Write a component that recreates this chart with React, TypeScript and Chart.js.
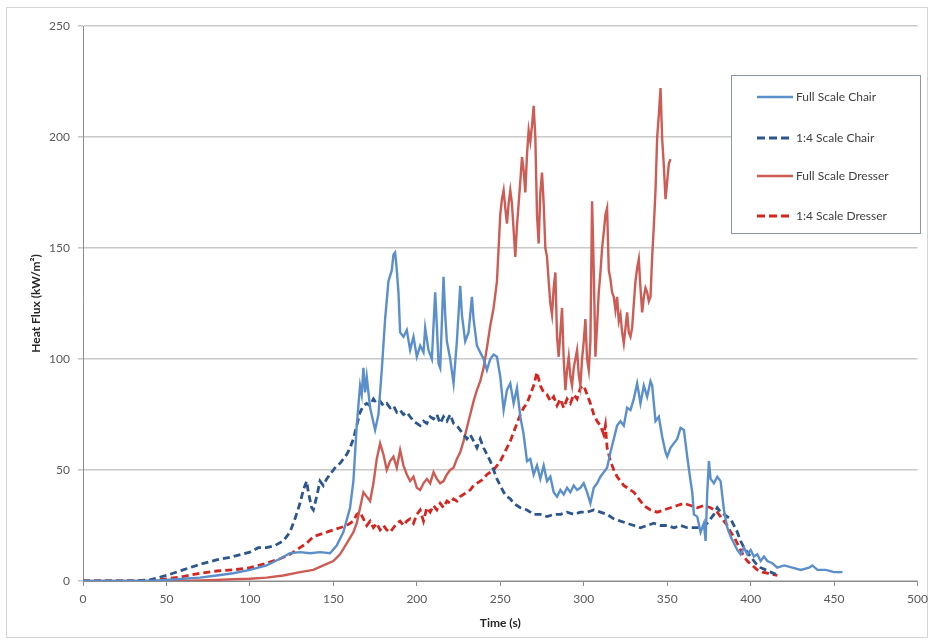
import React, { useEffect, useRef } from "react";
import { Chart, registerables } from "chart.js";

Chart.register(...registerables);

// Full scale chair: time (s) and heat flux (kW/m²)
const chairFullTime = [
  0, 20, 40, 50, 60, 70, 80, 90, 100, 110, 118, 124, 130, 136, 142, 148, 152, 156, 160, 162,
  164, 166, 167, 168, 169, 170, 172, 175, 177, 179, 181, 183, 185, 186, 187, 188, 189, 190, 192, 194,
  196, 198, 200, 202, 204, 205, 207, 209, 211, 212, 213, 214, 216, 217, 218, 220, 222, 224, 226, 227,
  229, 231, 233, 234, 236, 238, 240, 242, 244, 246, 248, 250, 252, 254, 256, 258, 260, 262, 264, 266,
  268, 270, 272, 274, 276, 278, 280, 282, 284, 286, 288, 290, 292, 294, 296, 298, 300, 302, 304, 306,
  308, 310, 312, 314, 316, 318, 320, 322, 324, 326, 328, 330, 332, 334, 336, 338, 340, 341, 343, 345,
  347, 349, 350, 352, 354, 356, 358, 360, 362, 364, 365, 366, 368, 370, 372, 373, 374, 375, 376, 378,
  380, 382, 384, 386, 388, 390, 392, 394, 396, 398, 400, 402, 404, 406, 408, 410, 413, 416, 420, 425,
  430, 435, 437, 440, 445, 450, 455,
];
const chairFullFlux = [
  0, 0, 0, 0.5, 1, 1.5, 2.5, 3.5, 5, 7, 10, 12.5, 13, 12.5, 13, 12.5, 16, 22, 33, 45,
  70, 88, 84, 96, 85, 92, 78, 68, 75, 95, 118, 135, 140, 147, 148, 140, 130, 112, 110, 113,
  104, 110, 101, 106, 103, 114, 104, 100, 130, 115, 98, 96, 137, 120, 108, 100, 89, 108, 133, 120,
  108, 112, 128, 118, 106, 103, 100, 95, 100, 102, 101, 92, 77, 86, 89, 80, 87, 74, 66, 54,
  55, 48, 52, 46, 52, 45, 47, 40, 38, 41, 39, 42, 40, 43, 41, 42, 44, 40, 35, 42,
  44, 47, 49, 51, 58, 64, 70, 72, 70, 78, 77, 82, 89, 80, 88, 83, 90, 88, 72, 74,
  65, 58, 56, 60, 62, 64, 69, 68, 56, 45, 40, 30, 29, 22, 26, 18, 40, 54, 46, 44,
  47, 45, 32, 24, 20, 17, 14, 12, 15, 12, 14, 11, 12, 9, 11, 9, 8, 6, 7, 6,
  5, 6, 7, 5, 5, 4, 4,
];

// 1:4 scale chair
const chairQuarterTime = [
  0, 30, 40, 45, 50, 60, 70, 80, 90, 100, 105, 110, 115, 120, 124, 127, 130, 132, 134, 135,
  137, 138, 140, 142, 144, 146, 148, 150, 152, 154, 156, 158, 160, 162, 164, 166, 168, 170, 172, 174,
  176, 178, 180, 182, 184, 186, 188, 190, 192, 194, 196, 198, 200, 202, 204, 206, 208, 210, 212, 214,
  216, 218, 220, 222, 224, 226, 228, 230, 232, 234, 236, 238, 240, 242, 244, 246, 248, 250, 252, 254,
  256, 258, 260, 262, 266, 270, 274, 278, 282, 286, 290, 294, 298, 302, 306, 310, 314, 318, 322, 326,
  330, 334, 338, 342, 346, 350, 354, 358, 362, 366, 370, 374, 378, 380, 382, 384, 386, 388, 390, 392,
  394, 396, 398, 400, 403, 406, 409, 412, 415,
];
const chairQuarterFlux = [
  0, 0, 0.5, 1.5, 2.5, 5, 7.5, 9.5, 11, 13, 15, 15, 16, 18, 22, 28, 35, 41, 45, 40,
  33, 32, 38, 45, 43, 46, 48, 50, 52, 53, 55, 57, 60, 64, 70, 76, 79, 80, 79, 82,
  80, 81, 79, 80, 78, 79, 76, 77, 75, 76, 74, 72, 71, 70, 72, 71, 74, 73, 75, 71,
  74, 72, 75, 71, 70, 68, 66, 64, 66, 63, 60, 64, 60, 57, 54, 50, 46, 43, 40, 38,
  37, 35, 34, 33, 32, 30, 30, 29, 30, 30, 31, 30, 31, 31, 32, 31, 30, 28, 27, 26,
  25, 24, 25, 26, 25, 25, 24, 25, 24, 24, 24, 26, 30, 33, 31, 30, 29, 28, 25, 22,
  18, 15, 13, 11, 8, 6, 5, 4, 3,
];

// Full scale dresser
const dresserFullTime = [
  0, 60, 70, 80, 90, 100, 110, 120, 130, 138, 144, 150, 154, 158, 162, 164, 166, 168, 170, 172,
  174, 176, 178, 180, 182, 184, 186, 188, 190, 192, 194, 196, 198, 200, 202, 204, 206, 208, 210, 212,
  214, 216, 218, 220, 222, 224, 226, 228, 230, 232, 234, 236, 238, 240, 242, 244, 246, 248, 249, 250,
  251, 252, 253, 254, 255, 256, 257, 258, 259, 260, 261, 262, 263, 264, 265, 266, 267, 268, 269, 270,
  271, 272, 273, 274, 275, 276, 277, 278, 279, 280, 281, 282, 283, 284, 285, 286, 287, 288, 289, 290,
  291, 292, 293, 294, 295, 296, 297, 298, 299, 300, 301, 302, 303, 304, 305, 306, 307, 308, 309, 310,
  311, 312, 313, 314, 315, 316, 317, 318, 319, 320, 321, 322, 323, 324, 325, 326, 327, 328, 329, 330,
  331, 332, 333, 334, 335, 336, 337, 338, 339, 340, 341, 342, 343, 344, 345, 346, 347, 348, 349, 350,
  351, 352,
];
const dresserFullFlux = [
  0, 0, 0.3, 0.5, 0.8, 1, 1.5, 2.5, 4, 5, 7, 9, 12, 17, 22, 26, 33, 40, 38, 36,
  44, 55, 62, 57, 50, 54, 56, 51, 59, 52, 48, 45, 47, 42, 41, 44, 46, 44, 49, 46,
  44, 45, 48, 50, 51, 55, 58, 63, 69, 75, 81, 86, 90, 96, 105, 115, 123, 135, 150, 165,
  172, 176, 168, 161, 170, 176, 170, 158, 146, 160, 170, 180, 191, 185, 175, 192, 203, 198, 205, 214,
  200, 165, 152, 175, 184, 170, 150, 146, 135, 125, 120, 132, 139, 110, 101, 112, 123, 100, 86, 95,
  101, 92, 88, 96, 100, 104, 93, 88, 100, 108, 118, 100, 95, 108, 171, 140, 101, 115, 130, 139,
  150, 157, 165, 168, 140, 136, 130, 128, 122, 128, 117, 120, 112, 107, 114, 121, 112, 110, 114, 125,
  135, 141, 145, 132, 121, 128, 132, 130, 126, 128, 146, 160, 176, 200, 210, 222, 199, 187, 172, 180,
  188, 190,
];

// 1:4 scale dresser
const dresserQuarterTime = [
  0, 40, 45, 50, 60, 70, 80, 90, 100, 110, 118, 124, 130, 134, 138, 142, 146, 150, 154, 158,
  162, 164, 166, 168, 170, 172, 174, 176, 178, 180, 182, 184, 186, 188, 190, 192, 194, 196, 198, 200,
  202, 204, 206, 208, 210, 212, 214, 216, 218, 220, 222, 224, 226, 228, 230, 232, 234, 236, 238, 240,
  242, 244, 246, 248, 250, 252, 254, 256, 258, 260, 262, 264, 266, 268, 270, 272, 273, 274, 276, 278,
  280, 282, 284, 286, 288, 290, 292, 294, 296, 298, 300, 302, 304, 306, 308, 310, 312, 313, 314, 316,
  318, 320, 322, 324, 326, 328, 330, 332, 334, 336, 338, 340, 344, 348, 352, 356, 360, 364, 368, 372,
  376, 380, 382, 384, 386, 388, 390, 392, 394, 396, 398, 401, 404, 407, 410, 413, 416,
];
const dresserQuarterFlux = [
  0, 0, 0.5, 1, 2, 3.5, 4.5, 5, 6, 8, 10, 12, 15, 17, 20, 21, 22, 23, 24, 25,
  27, 30, 31, 28, 25, 27, 24, 26, 23, 25, 23, 22, 24, 26, 27, 25, 27, 28, 26, 30,
  32, 27, 33, 31, 34, 32, 35, 33, 36, 35, 37, 36, 38, 39, 40, 41, 43, 44, 45, 46,
  48, 49, 50, 52, 54, 57, 60, 63, 67, 71, 75, 78, 80, 84, 88, 94, 91, 88, 85, 84,
  81, 83, 79, 82, 78, 82, 80, 84, 82, 87, 88, 84, 80, 75, 72, 70, 66, 70, 60, 54,
  50, 47, 45, 43, 42, 41, 40, 38, 36, 34, 33, 32, 31, 32, 33, 34, 35, 34, 33, 34,
  33, 31, 29, 27, 25, 22, 20, 17, 14, 11, 9, 7, 5, 4, 3.5, 3, 2.5,
];

const seriesNames = ["Full Scale Chair", "1:4 Scale Chair", "Full Scale Dresser", "1:4 Scale Dresser"];
const seriesColors = ["#5b8fcb", "#2c568c", "#cd5c55", "#d4261f"];
const xTicks = [0, 50, 100, 150, 200, 250, 300, 350, 400, 450, 500];

const FONT = "Lato, 'Open Sans', 'DejaVu Sans', sans-serif";

const toPoints = (t: number[], v: number[]) => t.map((x, i) => ({ x, y: v[i] }));

// White background plus the thin frame around the whole chart
const framePlugin = {
  id: "frame",
  beforeDraw(chart: any) {
    const { ctx, width, height } = chart;
    ctx.save();
    ctx.fillStyle = "#ffffff";
    ctx.fillRect(0, 0, width, height);
    ctx.strokeStyle = "#d4d4d4";
    ctx.lineWidth = 1;
    ctx.strokeRect(6.5, 7.5, width - 13, height - 14);
    ctx.restore();
  },
};

// Boxed legend inside the plot, top right
const boxLegendPlugin = {
  id: "boxLegend",
  afterDraw(chart: any) {
    const { ctx } = chart;
    const left = 731.5;
    const top = 75.5;
    const w = 189;
    const h = 158;
    ctx.save();
    ctx.fillStyle = "#ffffff";
    ctx.fillRect(left, top, w, h);
    ctx.strokeStyle = "#8a97ab";
    ctx.lineWidth = 1;
    ctx.strokeRect(left, top, w, h);
    const rows = [97, 138, 176, 216];
    chart.data.datasets.forEach((ds: any, i: number) => {
      const y = rows[i];
      const dashed = ds.borderDash && ds.borderDash.length;
      ctx.beginPath();
      ctx.strokeStyle = ds.borderColor;
      ctx.lineWidth = dashed ? 3 : 2.5;
      ctx.setLineDash(dashed ? [8, 4] : []);
      ctx.moveTo(757, y);
      ctx.lineTo(793, y);
      ctx.stroke();
      ctx.setLineDash([]);
      ctx.fillStyle = "#404040";
      ctx.font = `12px ${FONT}`;
      ctx.textBaseline = "middle";
      ctx.textAlign = "left";
      ctx.fillText(ds.label, 796, y);
    });
    ctx.restore();
  },
};

export default function App() {
  const canvasRef = useRef<HTMLCanvasElement | null>(null);

  useEffect(() => {
    if (!canvasRef.current) return;
    const makeSet = (i: number, t: number[], v: number[], dashed: boolean) => ({
      label: seriesNames[i],
      data: toPoints(t, v),
      borderColor: seriesColors[i],
      backgroundColor: seriesColors[i],
      borderWidth: dashed ? 2.8 : 2.4,
      borderDash: dashed ? [7, 4] : [],
      pointRadius: 0,
      tension: 0,
      fill: false,
    });

    const chart = new Chart(canvasRef.current, {
      type: "line",
      data: {
        datasets: [
          makeSet(0, chairFullTime, chairFullFlux, false),
          makeSet(1, chairQuarterTime, chairQuarterFlux, true),
          makeSet(2, dresserFullTime, dresserFullFlux, false),
          makeSet(3, dresserQuarterTime, dresserQuarterFlux, true),
        ],
      },
      options: {
        responsive: false,
        animation: false,
        layout: { padding: { left: 0, right: 16, top: 26, bottom: 0 } },
        plugins: {
          legend: { display: false },
          tooltip: { enabled: false },
        },
        scales: {
          x: {
            type: "linear",
            min: 0,
            max: 500,
            afterFit: (scale: any) => {
              scale.height = 63;
            },
            afterBuildTicks: (scale: any) => {
              scale.ticks = xTicks.map((value) => ({ value }));
            },
            ticks: {
              color: "#595959",
              font: { family: FONT, size: 12 },
              padding: 6,
              maxRotation: 0,
            },
            grid: {
              drawOnChartArea: false,
              drawTicks: true,
              tickLength: 5,
              color: "#8c8c8c",
            },
            border: { color: "#8c8c8c", width: 1 },
            title: {
              display: true,
              text: "Time (s)",
              color: "#262626",
              font: { family: FONT, size: 12, weight: "bold" },
              padding: { top: 0, bottom: 14 },
            },
          },
          y: {
            min: 0,
            max: 250,
            afterFit: (scale: any) => {
              scale.width = 83;
            },
            ticks: {
              stepSize: 50,
              color: "#595959",
              font: { family: FONT, size: 12 },
              padding: 8,
            },
            grid: {
              color: "#c8c8c8",
              lineWidth: 1.6,
              drawTicks: true,
              tickLength: 5,
            },
            border: { color: "#8c8c8c", width: 1 },
            title: {
              display: true,
              text: "Heat Flux (kW/m²)",
              color: "#262626",
              font: { family: FONT, size: 12, weight: "bold" },
              padding: { top: 29, bottom: 0 },
            },
          },
        },
      },
      plugins: [framePlugin, boxLegendPlugin],
    });
    return () => chart.destroy();
  }, []);

  return (
    <div style={{ position: "fixed", left: 0, top: 0, width: 934, height: 644, background: "#fff" }}>
      <canvas ref={canvasRef} width={934} height={644} style={{ width: 934, height: 644, display: "block" }} />
    </div>
  );
}
